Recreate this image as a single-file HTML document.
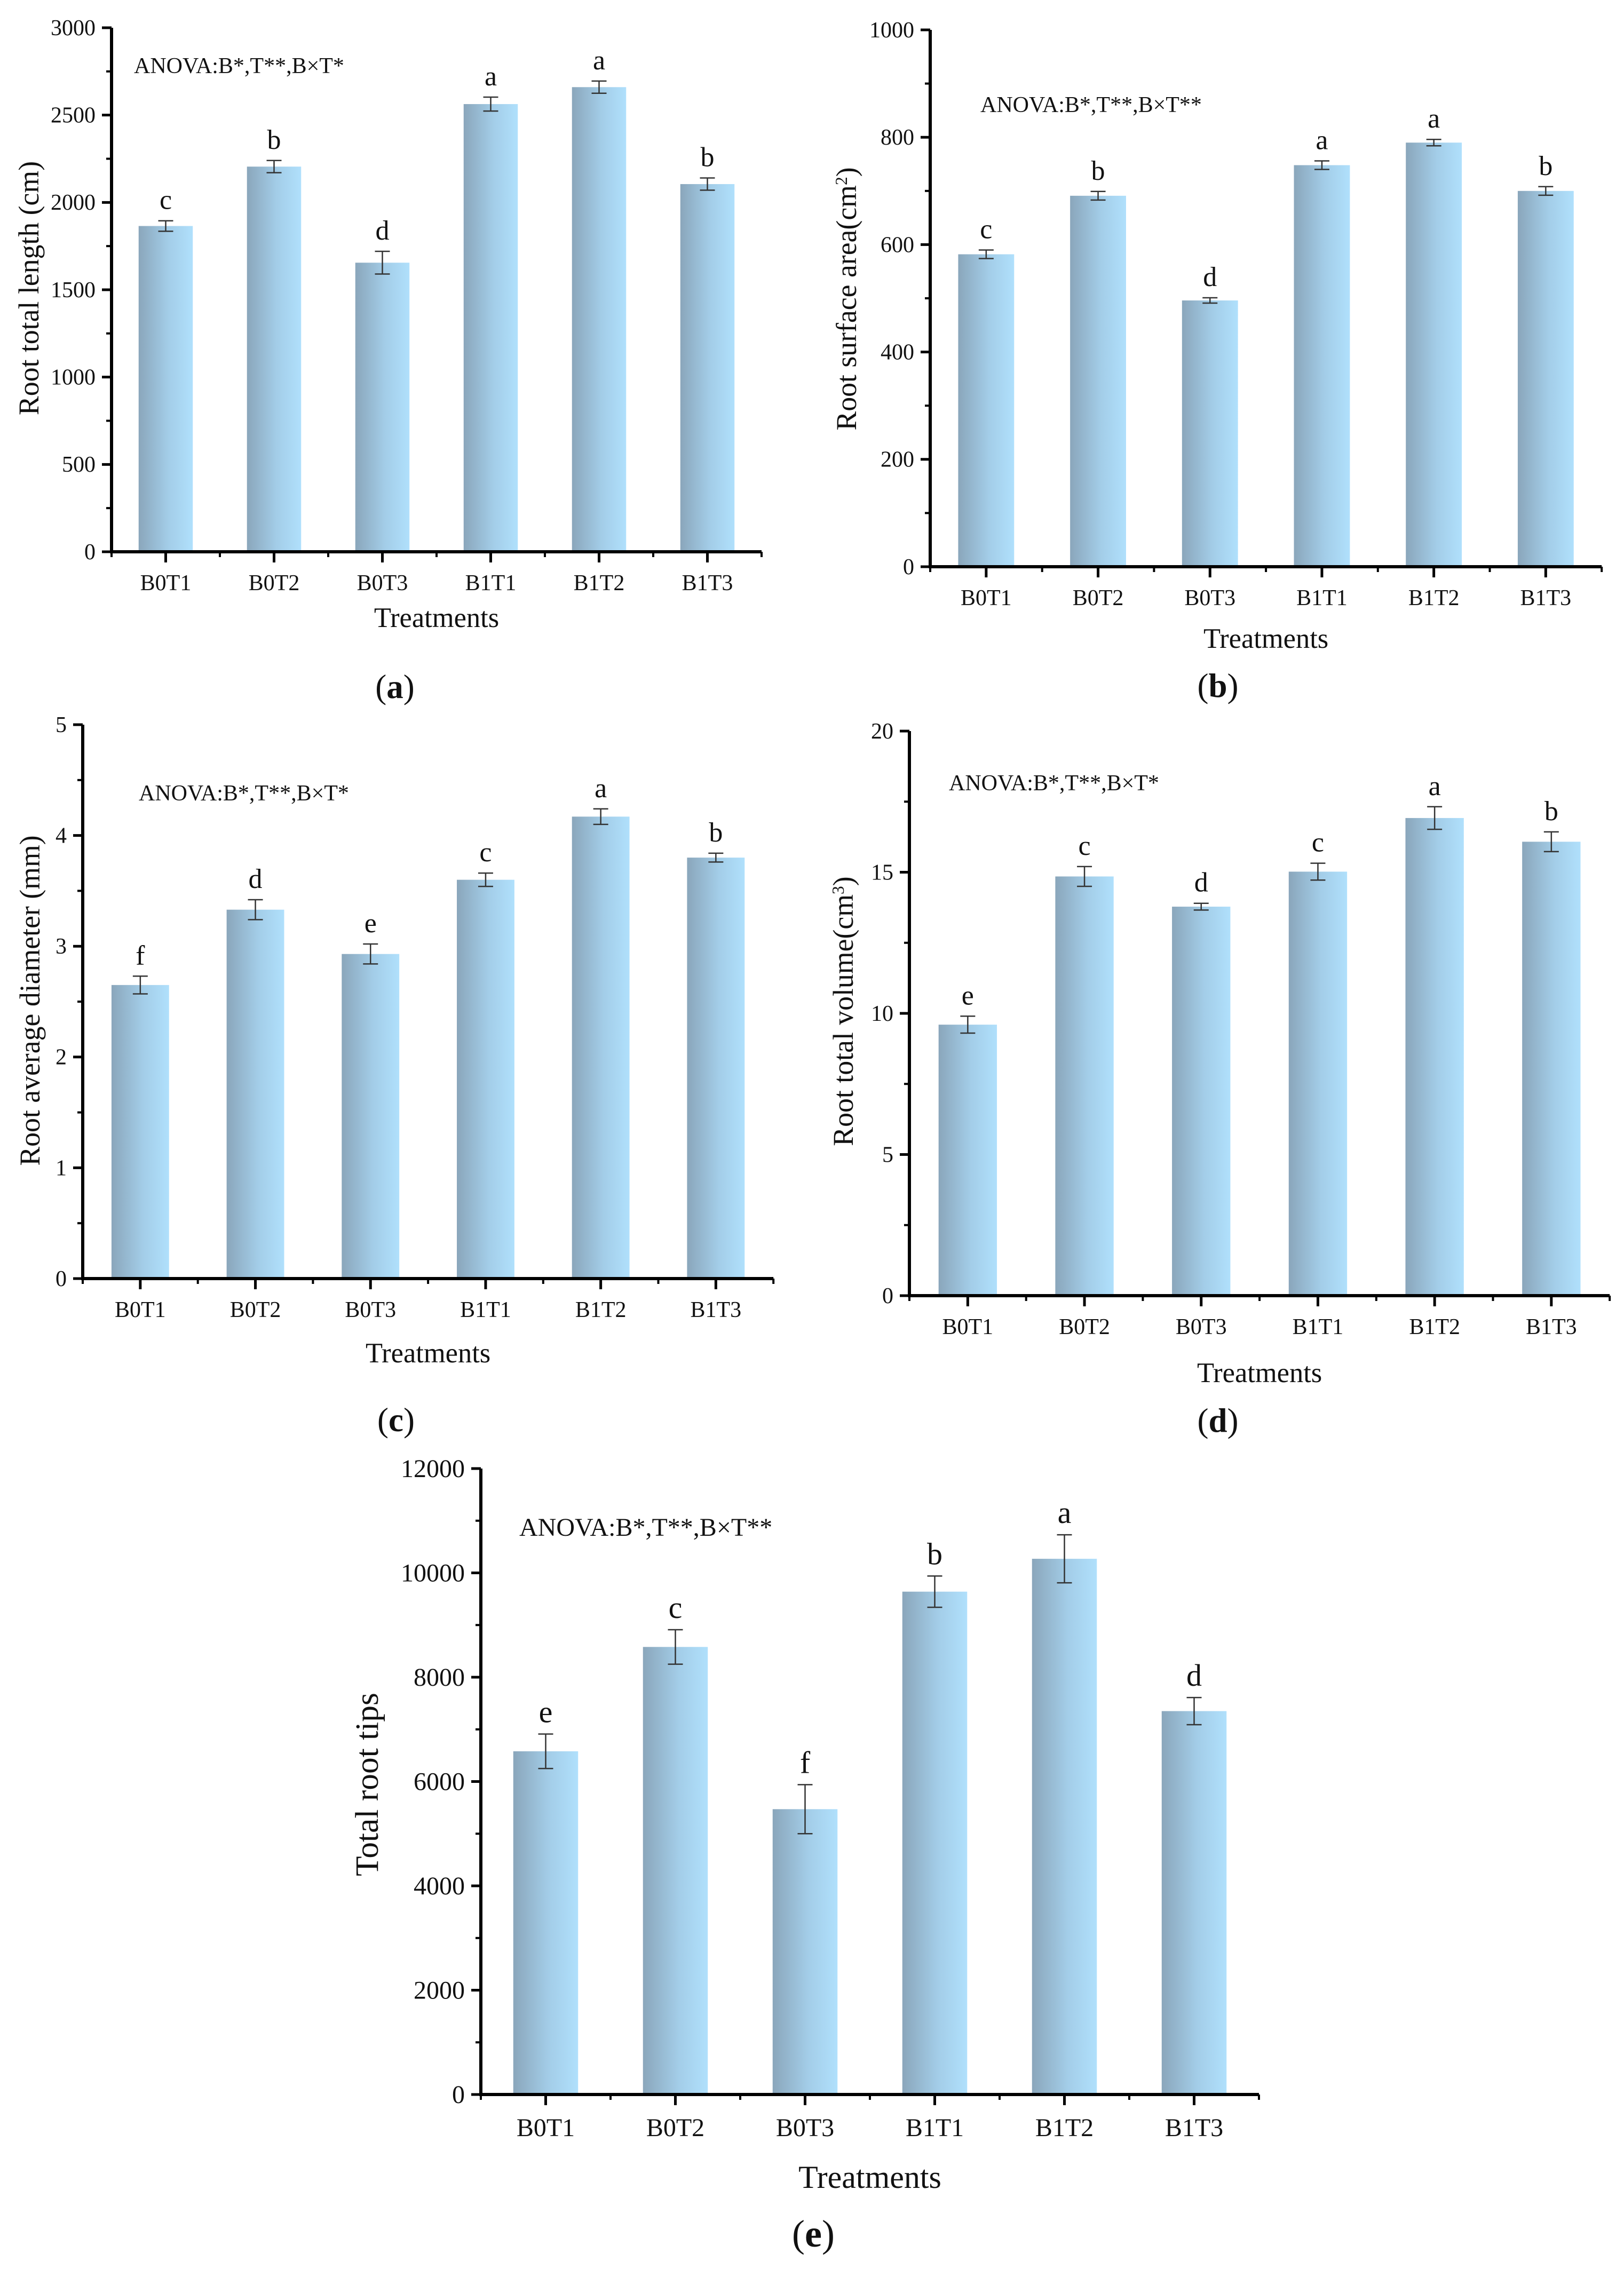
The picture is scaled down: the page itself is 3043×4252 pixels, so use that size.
<!DOCTYPE html>
<html><head><meta charset="utf-8"><style>
html,body{margin:0;padding:0;background:#fff;}
svg{display:block;font-family:"Liberation Serif",serif;}
</style></head><body>
<svg id="fig" width="3043" height="4252" viewBox="0 0 3043 4252" xmlns="http://www.w3.org/2000/svg">
<defs>
<linearGradient id="barGrad" x1="0" y1="0" x2="1" y2="0">
<stop offset="0" stop-color="#8aa6bb"/><stop offset="0.55" stop-color="#a3cde8"/><stop offset="1" stop-color="#b0e0fc"/>
</linearGradient>
</defs>
</svg>
<script>
const categories = ["B0T1","B0T2","B0T3","B1T1","B1T2","B1T3"];
const lengthValues = [1865, 2205, 1655, 2563, 2660, 2105];
const lengthErrors = [30, 35, 65, 40, 35, 35];
const lengthLetters = ["c","b","d","a","a","b"];
const lengthTicks = [0,500,1000,1500,2000,2500,3000];
const areaValues = [582, 691, 496, 748, 790, 700];
const areaErrors = [8, 8, 5, 8, 6, 8];
const areaLetters = ["c","b","d","a","a","b"];
const areaTicks = [0,200,400,600,800,1000];
const diamValues = [2.65, 3.33, 2.93, 3.60, 4.17, 3.80];
const diamErrors = [0.08, 0.09, 0.09, 0.06, 0.07, 0.04];
const diamLetters = ["f","d","e","c","a","b"];
const diamTicks = [0,1,2,3,4,5];
const volValues = [9.6, 14.85, 13.78, 15.02, 16.92, 16.08];
const volErrors = [0.3, 0.35, 0.12, 0.3, 0.4, 0.35];
const volLetters = ["e","c","d","c","a","b"];
const volTicks = [0,5,10,15,20];
const tipsValues = [6580, 8580, 5470, 9640, 10270, 7350];
const tipsErrors = [330, 330, 470, 300, 460, 260];
const tipsLetters = ["e","c","f","b","a","d"];
const tipsTicks = [0,2000,4000,6000,8000,10000,12000];

const NS = "http://www.w3.org/2000/svg";
const svg = document.getElementById("fig");
function mk(tag, attrs, parent, text){
  const e = document.createElementNS(NS, tag);
  for (const k in attrs) e.setAttribute(k, attrs[k]);
  if (text !== undefined) e.textContent = text;
  (parent || svg).appendChild(e);
  return e;
}

function panel(p){
  const g = mk("g", {});
  
  
  const ymax = p.ticks[p.ticks.length-1];
  const Y = v => p.y0 - (v/ymax)*(p.y0 - p.yTop);
  const X = i => p.x0 + p.sp*(i+0.5);
  const bw = p.sp*0.5;
  for (let i=0;i<categories.length;i++){
    const v = p.values[i], e = p.errors[i];
    const r = mk("rect", {x:X(i)-bw/2, y:Y(v), width:bw, height:p.y0-Y(v), fill:"url(#barGrad)"}, g);
    
    
    const eb = mk("path", {d:`M${X(i)-14},${Y(v+e)}H${X(i)+14}M${X(i)},${Y(v+e)}V${Y(v-e)}M${X(i)-14},${Y(v-e)}H${X(i)+14}`, stroke:"#333", "stroke-width":2.5, fill:"none"}, g);
    
    
    const lt = mk("text", {x:X(i), y:Y(v+e)-22, "font-size":p.fs+10, "text-anchor":"middle", fill:"#111"}, g, p.letters[i]);
    
    
  }
  const axEnd = p.x0 + p.sp*categories.length;
  const ax = mk("path", {d:`M${p.x0},${p.yTop}V${p.y0}H${axEnd}`, stroke:"#000", "stroke-width":6, fill:"none"}, g);
  
  
  for (let k=0;k<p.ticks.length;k++){
    const t = p.ticks[k];
    mk("line", {x1:p.x0-18, x2:p.x0, y1:Y(t), y2:Y(t), stroke:"#000", "stroke-width":5}, g);
    if (k < p.ticks.length-1){
      const mid = (t + p.ticks[k+1])/2;
      mk("line", {x1:p.x0-10, x2:p.x0, y1:Y(mid), y2:Y(mid), stroke:"#000", "stroke-width":4}, g);
    }
    const tl = mk("text", {x:p.x0-30, y:Y(t)+p.fs*0.33, "font-size":p.fs, "text-anchor":"end", fill:"#111"}, g, String(t));
    
    
  }
  for (let i=0;i<=categories.length;i++){
    mk("line", {x1:p.x0+p.sp*i, x2:p.x0+p.sp*i, y1:p.y0, y2:p.y0+10, stroke:"#000", "stroke-width":4}, g);
  }
  for (let i=0;i<categories.length;i++){
    mk("line", {x1:X(i), x2:X(i), y1:p.y0, y2:p.y0+20, stroke:"#000", "stroke-width":5}, g);
    const xl = mk("text", {x:X(i), y:p.y0+p.fs+30, "font-size":p.fs, "text-anchor":"middle", fill:"#111"}, g, categories[i]);
    
    
  }
  const xt = mk("text", {x:(p.x0+axEnd)/2, y:p.tY, "font-size":p.fs*1.25, "text-anchor":"middle", fill:"#111"}, g, "Treatments");
  
  
  const yt = mk("text", {x:0, y:0, "font-size":p.fs*1.28, "text-anchor":"middle", fill:"#111", transform:`translate(${p.ytX},${p.ytY}) rotate(-90)`}, g);
  
  
  yt.textContent = p.ytitle;
  if (p.sup){ mk("tspan", {"baseline-shift":"super", "font-size":p.fs*0.75}, yt, p.sup); mk("tspan", {}, yt, ")"); }
  const an = mk("text", {x:p.anX, y:p.anY, "font-size":p.fs, fill:"#111"}, g, p.anova);
  
  
  const pl = mk("text", {x:p.plX, y:p.plY, "font-size":p.fs*1.5, "text-anchor":"middle", fill:"#111"}, g);
  
  
  mk("tspan", {}, pl, "(");
  mk("tspan", {"font-weight":"bold"}, pl, p.id);
  mk("tspan", {}, pl, ")");
}

panel({id:"a", values:lengthValues, errors:lengthErrors, letters:lengthLetters, ticks:lengthTicks,
  x0:209, sp:203, y0:1034, yTop:52, fs:42, tY:1175, ytX:72, ytY:540, ytitle:"Root total length (cm)",
  anX:251, anY:137, anova:"ANOVA:B*,T**,B\u00d7T*", plX:740, plY:1308});
panel({id:"b", values:areaValues, errors:areaErrors, letters:areaLetters, ticks:areaTicks,
  x0:1743, sp:209.7, y0:1062, yTop:56, fs:42, tY:1214, ytX:1604, ytY:560, ytitle:"Root surface area(cm", sup:"2",
  anX:1837, anY:210, anova:"ANOVA:B*,T**,B\u00d7T**", plX:2282, plY:1306});
panel({id:"c", values:diamValues, errors:diamErrors, letters:diamLetters, ticks:diamTicks,
  x0:155, sp:215.7, y0:2396, yTop:1358, fs:42, tY:2553, ytX:74, ytY:1875, ytitle:"Root average diameter (mm)",
  anX:260, anY:1500, anova:"ANOVA:B*,T**,B\u00d7T*", plX:742, plY:2682});
panel({id:"d", values:volValues, errors:volErrors, letters:volLetters, ticks:volTicks,
  x0:1704, sp:218.7, y0:2428, yTop:1370, fs:42, tY:2590, ytX:1598, ytY:1895, ytitle:"Root total volume(cm", sup:"3",
  anX:1778, anY:1481, anova:"ANOVA:B*,T**,B\u00d7T*", plX:2282, plY:2683});
panel({id:"e", values:tipsValues, errors:tipsErrors, letters:tipsLetters, ticks:tipsTicks,
  x0:901, sp:243, y0:3925, yTop:2752, fs:48, tY:4100, ytX:708, ytY:3344, ytitle:"Total root tips",
  anX:973, anY:2878, anova:"ANOVA:B*,T**,B\u00d7T**", plX:1524, plY:4210});
</script>
</body></html>
